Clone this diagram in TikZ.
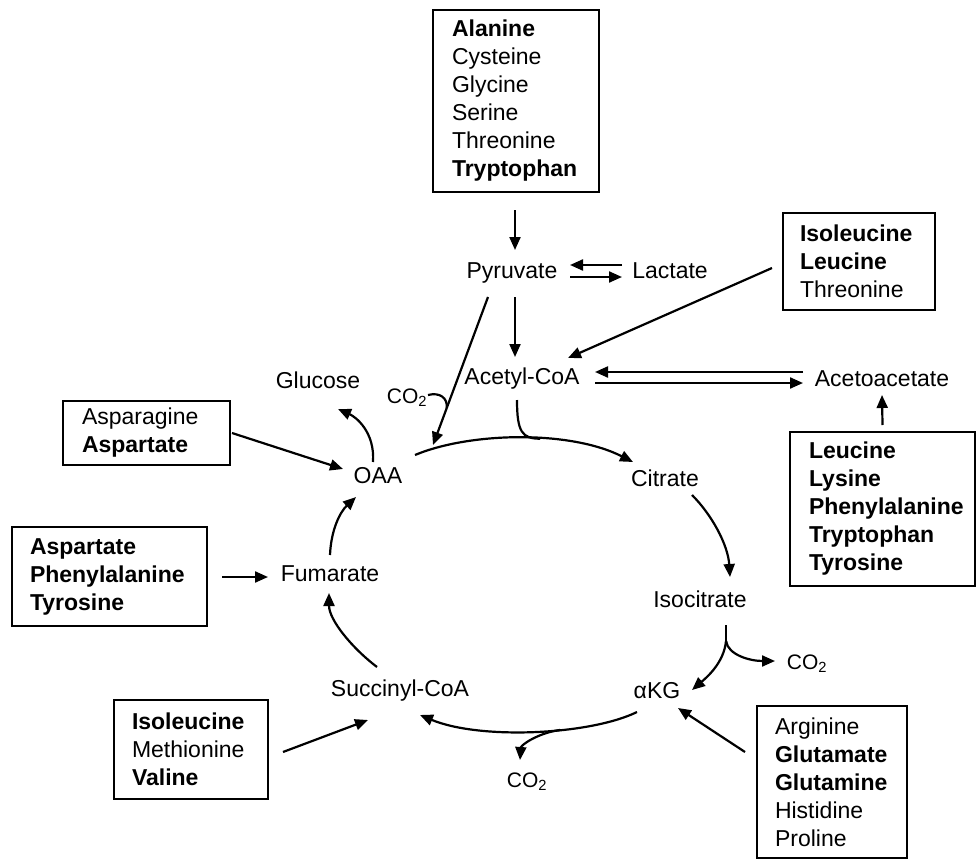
\documentclass[tikz,border=0pt]{standalone}
\usepackage{fontspec}
\setmainfont{Liberation Sans}
\usetikzlibrary{arrows.meta}
\newcommand{\fsz}{\fontsize{23}{28}\selectfont}
\newcommand{\fco}{\fontsize{21}{24}\selectfont}
\begin{document}
\begin{tikzpicture}[x=1pt,y=-1pt,
  met/.style={inner sep=1pt, text height=17pt, text depth=5pt, font=\fsz},
  co/.style={inner sep=1pt, font=\fco},
  lbox/.style={draw, line width=2.4pt, align=left, font=\fsz, inner ysep=0pt},
  arr/.style={line width=2.2pt, -{Triangle[length=13pt,width=11pt]}},
  ln/.style={line width=2.2pt}]
\fill[white] (0,0) rectangle (979,861);
\useasboundingbox (0,0) rectangle (979,861);

% boxes
\node[lbox, text width=128pt, inner xsep=19pt, minimum height=182pt] (bA) at (516,101)
  {\textbf{Alanine}\\Cysteine\\Glycine\\Serine\\Threonine\\\textbf{Tryptophan}};
\node[lbox, text width=118pt, inner xsep=17pt, minimum height=97pt] (bB) at (859,261.5)
  {\textbf{Isoleucine}\\\textbf{Leucine}\\Threonine};
\node[lbox, text width=147pt, inner xsep=19pt, minimum height=154pt] (bC) at (882.5,509)
  {\textbf{Leucine}\\\textbf{Lysine}\\\textbf{Phenylalanine}\\\textbf{Tryptophan}\\\textbf{Tyrosine}};
\node[lbox, text width=129pt, inner xsep=19pt, minimum height=64pt] (bD) at (146.5,433)
  {Asparagine\\\textbf{Aspartate}};
\node[lbox, text width=114pt, inner xsep=18pt, minimum height=152pt] (bE) at (832,782)
  {Arginine\\\textbf{Glutamate}\\\textbf{Glutamine}\\Histidine\\Proline};
\node[lbox, text width=118pt, inner xsep=18pt, minimum height=99pt] (bF) at (191,749.5)
  {\textbf{Isoleucine}\\Methionine\\\textbf{Valine}};
\node[lbox, text width=159pt, inner xsep=18pt, minimum height=99pt] (bG) at (109.5,576.5)
  {\textbf{Aspartate}\\\textbf{Phenylalanine}\\\textbf{Tyrosine}};

% metabolites
\node[met] (pyr) at (512,272) {Pyruvate};
\node[met] (lac) at (670,272) {Lactate};
\node[met] (acoa) at (522,378) {Acetyl-CoA};
\node[met] (acac) at (882,380) {Acetoacetate};
\node[met] (gluc) at (318,382) {Glucose};
\node[co] (co2a) at (407,398) {CO\textsubscript{2}};
\node[met] (oaa) at (378,477) {OAA};
\node[met] (cit) at (665,480) {Citrate};
\node[met] (iso) at (700,601) {Isocitrate};
\node[co] (co2b) at (807,664) {CO\textsubscript{2}};
\node[met] (akg) at (657,692) {αKG};
\node[met] (succ) at (400,690) {Succinyl-CoA};
\node[co] (co2c) at (527,782) {CO\textsubscript{2}};
\node[met] (fum) at (330,575) {Fumarate};

% connectors
\draw[arr] ([shift={(-1,109)}]bA.center) -- ([shift={(3,-22)}]pyr.center);
\draw[arr] ([shift={(-48,-7)}]lac.center) -- ([shift={(58,-7)}]pyr.center);
\draw[arr] ([shift={(58,5)}]pyr.center) -- ([shift={(-48,5)}]lac.center);
\draw[arr] ([shift={(-87,6.5)}]bB.center) -- ([shift={(46,-20)}]acoa.center);
\draw[arr] ([shift={(3,25)}]pyr.center) -- ([shift={(-7,-21)}]acoa.center);
\draw[arr] ([shift={(-79,-8)}]acac.center) -- ([shift={(73,-6)}]acoa.center);
\draw[arr] ([shift={(73,5)}]acoa.center) -- ([shift={(-79,3)}]acac.center);
\draw[arr] ([shift={(0,-84)}]bC.center) -- ([shift={(0,15)}]acac.center);
\draw[arr] ([shift={(-24,25)}]pyr.center) -- ([shift={(55,-32)}]oaa.center) coordinate[pos=0.75] (jn);
\draw[ln] ([shift={(21,-3)}]co2a.center) .. controls +(12,-3) and +(1,-10) .. (jn);
\draw[arr] ([shift={(37,-22)}]oaa.center) .. controls (470,432) and (570,430) .. ([shift={(-32,-18)}]cit.center) coordinate[pos=0.58] (jm);
\draw[ln] ([shift={(-5,22)}]acoa.center) .. controls +(0,32) and +(-18,0) .. (jm);
\draw[arr] ([shift={(-5,-15)}]oaa.center) .. controls +(2,-30) and +(18,8) .. ([shift={(20,27)}]gluc.center);
\draw[arr] ([shift={(85.5,0)}]bD.center) -- ([shift={(-35,-8)}]oaa.center);
\draw[arr] ([shift={(27,15)}]cit.center) .. controls +(20,20) and +(-2,-32) .. ([shift={(30,-24)}]iso.center);
\coordinate (fork) at ([shift={(26,40)}]iso.center);
\draw[ln] ([shift={(26,24)}]iso.center) -- (fork);
\draw[arr] (fork) .. controls +(-2,22) and +(14,-12) .. ([shift={(35,-2)}]akg.center);
\draw[arr] (fork) .. controls +(2,14) and +(-25,0) .. ([shift={(-32,-3)}]co2b.center);
\draw[arr] ([shift={(-87,-30)}]bE.center) -- ([shift={(21,16)}]akg.center);
\draw[arr] ([shift={(-20,20)}]akg.center) .. controls (590,735) and (480,740) .. ([shift={(20,25)}]succ.center) coordinate[pos=0.39] (br);
\draw[arr] (br) .. controls +(-22,3) and +(1,-15) .. ([shift={(-7,-22)}]co2c.center);
\draw[arr] ([shift={(92,2.5)}]bF.center) -- ([shift={(-32,30)}]succ.center);
\draw[arr] ([shift={(-23,-23)}]succ.center) .. controls +(-25,-19) and +(0,27) .. ([shift={(-1,18)}]fum.center);
\draw[arr] ([shift={(0,-20)}]fum.center) .. controls +(1,-25) and +(-16,15) .. ([shift={(-22,20)}]oaa.center);
\draw[arr] ([shift={(112.5,0.5)}]bG.center) -- ([shift={(-62,2)}]fum.center);
\end{tikzpicture}
\end{document}
